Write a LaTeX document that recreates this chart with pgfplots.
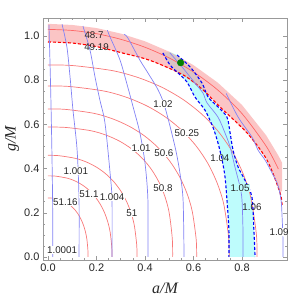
\documentclass[border=0pt]{standalone}
\usepackage{pgfplots}
\pgfplotsset{compat=1.18}
\usepackage{fontspec}
\setmainfont{Liberation Sans}
\newfontfamily\serif{Liberation Serif}
\definecolor{cred}{RGB}{248,120,120}
\definecolor{cblue}{RGB}{130,130,245}
\definecolor{pinkf}{RGB}{248,140,140}
\definecolor{cyanf}{RGB}{190,252,252}
\definecolor{dgreen}{RGB}{0,128,0}
\begin{document}
\begin{tikzpicture}[
 lab/.style={font=\fontsize{9.8}{11}\selectfont, inner sep=0.4bp, text=black!85},
 redc/.style={cred, line width=0.7bp, smooth},
 bluec/.style={cblue, line width=0.7bp, smooth},
 bdash/.style={blue, line width=1.1bp, dash pattern=on 3bp off 2bp, smooth}]
\path[use as bounding box] (0,0) rectangle (306bp,301bp);
\begin{axis}[at={(43bp,41bp)}, anchor=south west, scale only axis,
 width=244bp, height=242bp,
 xmin=-0.0206, xmax=0.9856, ymin=-0.0136, ymax=1.0814,
 xtick={0,0.2,0.4,0.6,0.8}, ytick={0,0.2,0.4,0.6,0.8,1.0},
 minor x tick num=3, minor y tick num=3,
 tick align=inside, major tick length=4bp, minor tick length=2.2bp,
 axis line style={gray!80}, every tick/.style={gray!80, line width=0.5bp},
 ticklabel style={font=\fontsize{11}{13}\selectfont, text=black!85},
 /pgf/number format/fixed, /pgf/number format/fixed zerofill,
 /pgf/number format/precision=1, /pgf/number format/assume math mode=true,
 xlabel={\serif\itshape a/M}, ylabel={\serif\itshape g/M},
 xlabel style={at={(axis description cs:0.5,-0.116)}, anchor=center, font=\fontsize{16}{18}\selectfont, text=black!85},
 ylabel style={at={(axis description cs:-0.127,0.5)}, anchor=center, font=\fontsize{16}{18}\selectfont, text=black!85},
]
% cyan band
\addplot[draw=none, fill=cyanf] coordinates {(0.474,0.923)(0.503,0.869)(0.536,0.833)(0.573,0.792)(0.606,0.724)(0.647,0.665)(0.68,0.588)(0.701,0.516)(0.718,0.439)(0.73,0.362)(0.738,0.258)(0.746,0.122)(0.746,0)
(0.854,0)(0.849,0.122)(0.841,0.271)(0.812,0.348)(0.784,0.407)(0.763,0.484)(0.751,0.561)(0.738,0.633)(0.701,0.679)(0.66,0.724)(0.635,0.787)(0.586,0.86)(0.532,0.914)(0.5,0.929)} -- cycle;
% pink band
\addplot[draw=none, fill=pinkf, fill opacity=0.5] coordinates {(0,1.055)(0.1,1.05)(0.2,1.036)(0.3,1.011)(0.4,0.976)(0.5,0.929)(0.6,0.868)(0.7,0.789)(0.8,0.688)(0.9,0.55)(0.95,0.459)(0.965,0.427)(0.965,0.30)(0.957,0.29)(0.903,0.439)(0.821,0.561)(0.709,0.679)(0.639,0.756)(0.557,0.824)(0.42,0.89)(0.3,0.925)(0.2,0.952)(0.1,0.968)(0,0.973)} -- cycle;
% red contours
\addplot[redc] coordinates {(0.165,0)(0.1645,0.032)(0.1601,0.0824)(0.154,0.1158)(0.1456,0.1461)(0.1349,0.1734)(0.1221,0.1975)(0.1072,0.2183)(0.0903,0.2356)(0.0715,0.2492)(0.0509,0.2591)(0.0198,0.2661)(0,0.267)};
\addplot[redc] coordinates {(0.264,0)(0.2631,0.0439)(0.2562,0.1132)(0.2464,0.1591)(0.2330,0.2008)(0.2158,0.2383)(0.1953,0.2715)(0.1714,0.3001)(0.1445,0.3238)(0.1145,0.3426)(0.0814,0.3561)(0.0316,0.3658)(0,0.367)};
\addplot[redc] coordinates {(0.367,0)(0.3658,0.0551)(0.3561,0.1419)(0.3426,0.1995)(0.3238,0.2517)(0.3001,0.2987)(0.2715,0.3403)(0.2383,0.3761)(0.2008,0.4059)(0.1591,0.4294)(0.1132,0.4463)(0.0439,0.4585)(0,0.46)};
\addplot[redc] coordinates {(0.514,0)(0.5125,0.0835)(0.4999,0.1994)(0.4824,0.2727)(0.4581,0.3377)(0.4271,0.3953)(0.3896,0.4456)(0.3456,0.4886)(0.2952,0.5241)(0.2384,0.5519)(0.1743,0.5719)(0.0730,0.5862)(0,0.588)};
\addplot[redc] coordinates {(0.613,0)(0.611,0.0802)(0.5948,0.2067)(0.5722,0.2905)(0.5409,0.3666)(0.5012,0.4351)(0.4534,0.4956)(0.3981,0.5478)(0.3354,0.5912)(0.2658,0.6254)(0.1891,0.6501)(0.0734,0.6678)(0,0.67)};
\addplot[redc] coordinates {(0.747,0)(0.7445,0.0926)(0.7248,0.2388)(0.6972,0.3356)(0.6592,0.4235)(0.6107,0.5026)(0.5526,0.5725)(0.4851,0.6328)(0.4088,0.683)(0.3239,0.7225)(0.2305,0.751)(0.0894,0.7714)(0,0.774)};
\addplot[redc] coordinates {(0.862,0)(0.8592,0.104)(0.8364,0.2681)(0.8046,0.3768)(0.7606,0.4755)(0.7048,0.5643)(0.6376,0.6428)(0.5598,0.7105)(0.4717,0.7668)(0.3738,0.8111)(0.2659,0.8432)(0.1032,0.8661)(0,0.869)};
\addplot[redc, color=red!60] coordinates {(0,1.03)(0.1,1.025)(0.2,1.0104)(0.3,0.985)(0.4,0.949)(0.5,0.9005)(0.6,0.837)(0.7,0.7556)(0.8,0.6488)(0.9,0.5009)(0.95,0.398)};
\addplot[red, line width=1.1bp, dash pattern=on 3bp off 2bp, smooth] coordinates {(0,0.973)(0.1,0.968)(0.2,0.952)(0.3,0.925)(0.42,0.89)(0.557,0.824)(0.639,0.756)(0.709,0.679)(0.821,0.561)(0.903,0.439)(0.957,0.29)(0.965,0.235)};
% blue contours
\addplot[bluec] coordinates {(0.004,1.05)(0.008,0.891)(0.012,0.71)(0.016,0.484)(0.019,0.25)(0.02,0)};
\addplot[bluec] coordinates {(0.058,1.053)(0.078,0.95)(0.091,0.814)(0.103,0.665)(0.12,0.484)(0.128,0.258)(0.128,0)};
\addplot[bluec] coordinates {(0.144,1.045)(0.173,0.937)(0.194,0.814)(0.214,0.71)(0.235,0.606)(0.256,0.38)(0.264,0.258)(0.264,0)};
\addplot[bluec] coordinates {(0.245,1.026)(0.256,0.995)(0.297,0.891)(0.33,0.765)(0.351,0.679)(0.379,0.561)(0.4,0.425)(0.412,0.258)(0.412,0)};
\addplot[bluec] coordinates {(0.313,1.008)(0.33,0.99)(0.379,0.891)(0.412,0.833)(0.454,0.756)(0.482,0.679)(0.524,0.498)(0.544,0.38)(0.557,0.258)(0.561,0)};
\addplot[bluec] coordinates {(0.503,0.923)(0.553,0.86)(0.606,0.787)(0.639,0.742)(0.656,0.697)(0.701,0.633)(0.73,0.561)(0.751,0.498)(0.771,0.407)(0.792,0.317)(0.8,0.258)(0.804,0.122)(0.804,0)};
\addplot[bluec] coordinates {(0.735,0.74)(0.784,0.633)(0.841,0.543)(0.866,0.484)(0.895,0.439)(0.924,0.38)(0.948,0.326)(0.961,0.258)(0.965,0.19)(0.969,0.077)(0.969,0)};
% blue dashed
\addplot[bdash] coordinates {(0.474,0.923)(0.503,0.869)(0.536,0.833)(0.573,0.792)(0.606,0.724)(0.647,0.665)(0.68,0.588)(0.701,0.516)(0.718,0.439)(0.73,0.362)(0.738,0.258)(0.746,0.122)(0.746,0)};
\addplot[bdash] coordinates {(0.532,0.914)(0.586,0.86)(0.635,0.787)(0.66,0.724)(0.701,0.679)(0.738,0.633)(0.751,0.561)(0.763,0.484)(0.784,0.407)(0.812,0.348)(0.841,0.271)(0.849,0.122)(0.854,0)};
% point
\addplot[only marks, mark=*, mark size=3.3bp, color=dgreen, mark options={draw=dgreen, fill=dgreen}] coordinates {(0.547,0.879)};
% labels
\node[lab] at (axis cs:0.19,1.005) {48.7};
\node[lab] at (axis cs:0.2,0.95) {49.19};
\node[lab, fill=white] at (axis cs:0.573,0.561) {50.25};
\node[lab, fill=white] at (axis cs:0.478,0.471) {50.6};
\node[lab, fill=white] at (axis cs:0.474,0.312) {50.8};
\node[lab, fill=white] at (axis cs:0.346,0.199) {51};
\node[lab, fill=white] at (axis cs:0.169,0.285) {51.1};
\node[lab, fill=white] at (axis cs:0.072,0.249) {51.16};
\node[lab, fill=white] at (axis cs:0.058,0.032) {1.0001};
\node[lab, fill=white] at (axis cs:0.115,0.389) {1.001};
\node[lab, fill=white] at (axis cs:0.264,0.271) {1.004};
\node[lab, fill=white] at (axis cs:0.384,0.493) {1.01};
\node[lab, fill=white] at (axis cs:0.474,0.692) {1.02};
\node[lab] at (axis cs:0.709,0.448) {1.04};
\node[lab, fill=cyanf] at (axis cs:0.792,0.312) {1.05};
\node[lab] at (axis cs:0.841,0.226) {1.06};
\node[lab, fill=white] at (axis cs:0.953,0.113) {1.09};
\end{axis}
\end{tikzpicture}
\end{document}
